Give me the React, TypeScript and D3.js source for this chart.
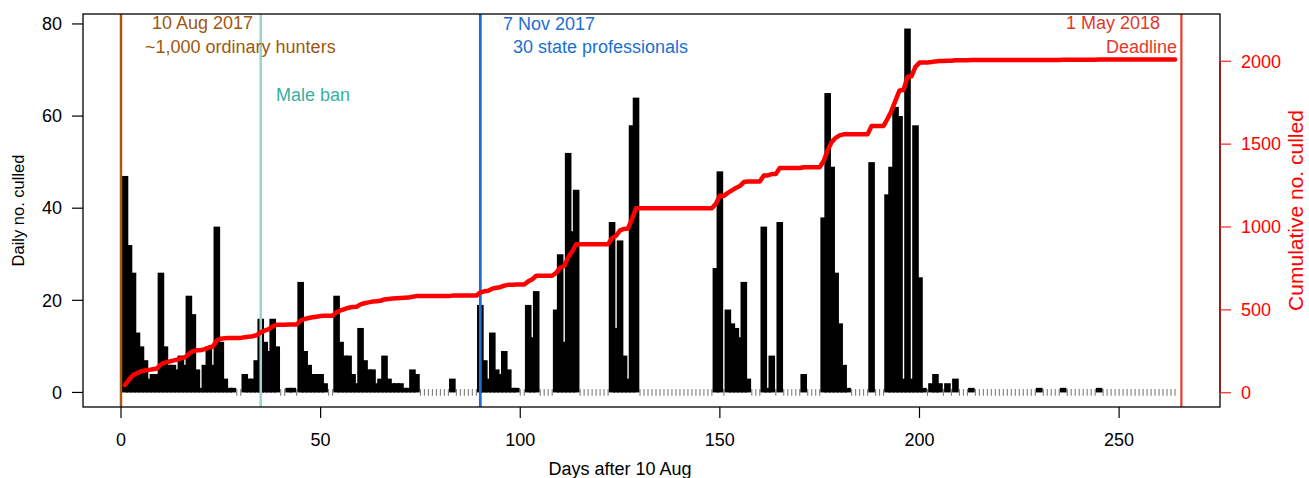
import React from "react";
import * as d3 from "d3";

const WIDTH = 1309;
const HEIGHT = 478;
const FONT = "'Liberation Sans', Arial, Helvetica, sans-serif";

// Days (after 10 Aug 2017) with at least one animal culled, and the count that day
const CULL_DAYS = [
  1, 2, 3, 4, 5, 6, 7, 8, 9, 10, 11, 12, 13, 14, 15, 16, 17, 18, 19, 20, 21, 22, 23, 24, 25, 26, 27, 28,
  31, 32, 33, 34, 35, 36, 37, 38, 39, 42, 43, 45, 46, 47, 48, 49, 50, 51, 54, 55, 56, 57, 58, 59, 60,
  61, 62, 63, 64, 65, 66, 67, 68, 69, 70, 71, 72, 73, 74, 83, 90, 91, 92, 93, 94, 95, 96, 97, 98, 99,
  102, 103, 104, 109, 110, 111, 112, 113, 114, 123, 124, 125, 126, 127, 128, 129, 149, 150, 152, 153,
  154, 155, 156, 157, 161, 162, 163, 165, 171, 176, 177, 178, 179, 180, 181, 182, 188, 192, 193, 194,
  195, 196, 197, 198, 199, 200, 201, 203, 204, 205, 207, 209, 213, 230, 236, 245,
];
const CULL_COUNTS = [
  47, 32, 26, 13, 10, 7, 3, 4, 4, 26, 10, 6, 6, 5, 8, 6, 21, 17, 5, 1, 6, 10, 6, 36, 11, 3, 1, 1,
  4, 3, 3, 7, 16, 11, 9, 16, 10, 1, 1, 24, 9, 6, 4, 4, 4, 2, 21, 11, 8, 8, 4, 2, 14,
  7, 5, 5, 2, 3, 8, 3, 2, 2, 2, 1, 1, 5, 4, 3, 19, 7, 3, 13, 5, 4, 9, 5, 1, 1,
  19, 12, 22, 18, 30, 11, 52, 35, 44, 37, 14, 33, 8, 3, 58, 64, 27, 48, 18, 15,
  14, 12, 24, 3, 36, 1, 8, 37, 4, 38, 65, 49, 26, 15, 6, 1, 50, 43, 49, 62,
  60, 3, 79, 3, 58, 25, 1, 2, 4, 2, 2, 3, 1, 1, 1, 1,
];
const FIRST_DAY = 1;
const LAST_DAY = 264;

const X_TICKS = [0, 50, 100, 150, 200, 250];
const Y_TICKS = [0, 20, 40, 60, 80];
const CUM_TICKS = [0, 500, 1000, 1500, 2000];

// Reference dates (days after 10 Aug 2017)
const EVENT_DAYS = [0, 35, 90, 265.6];
const EVENT_LINES = [
  ["10 Aug 2017", "~1,000 ordinary hunters"],
  ["Male ban"],
  ["7 Nov 2017", "30 state professionals"],
  ["1 May 2018", "Deadline"],
];

export default function App() {
  const left = 83, right = 1220, top = 14, bottom = 407;
  const x = d3.scaleLinear().domain([-9.52, 275.27]).range([left, right]);
  const yL = d3.scaleLinear().domain([-3.16, 82.16]).range([bottom, top]);
  const yR = d3.scaleLinear().domain([-86, 2285]).range([bottom, top]);

  const lookup = new Map<number, number>();
  CULL_DAYS.forEach((d, i) => lookup.set(d, CULL_COUNTS[i]));
  const days = d3.range(FIRST_DAY, LAST_DAY + 1);
  const daily = days.map((d) => lookup.get(d) ?? 0);
  const cum = Array.from(d3.cumsum(daily));

  const line = d3
    .line<number>()
    .x((_, i) => x(days[i]))
    .y((c) => yR(c));

  const barW = 6.6;
  const y0 = yL(0);

  const eventStyle = [
    { line: "#a65b12", text: "#a0580e", w: 2.5 },
    { line: "#9ed3ce", text: "#3aafa0", w: 2.6 },
    { line: "#1b6fd3", text: "#1b6fd3", w: 2.8 },
    { line: "#e43d2c", text: "#e3392b", w: 2.2 },
  ];
  const eventText = [
    [
      { x: 152, y: 29, anchor: "start" },
      { x: 145, y: 53, anchor: "start" },
    ],
    [{ x: 276, y: 100.5, anchor: "start" }],
    [
      { x: 503, y: 30, anchor: "start" },
      { x: 513, y: 53, anchor: "start" },
    ],
    [
      { x: 1160, y: 29, anchor: "end" },
      { x: 1177, y: 53, anchor: "end" },
    ],
  ];

  return (
    <svg
      width={WIDTH}
      height={HEIGHT}
      style={{ position: "absolute", left: 0, top: 0, background: "#fff" }}
      fontFamily={FONT}
    >
      <rect x={0} y={0} width={WIDTH} height={HEIGHT} fill="#fff" />

      {/* zero-day ticks */}
      {days.map((d, i) =>
        daily[i] === 0 ? (
          <line key={"z" + d} x1={x(d)} x2={x(d)} y1={y0 - 3.4} y2={y0 + 3.4} stroke="#7d7d7d" strokeWidth={1.1} />
        ) : null
      )}

      {/* daily bars */}
      {days.map((d, i) =>
        daily[i] > 0 ? (
          <rect key={"b" + d} x={x(d) - barW / 2} y={yL(daily[i])} width={barW} height={y0 - yL(daily[i])} fill="#000" />
        ) : null
      )}

      {/* event lines */}
      {EVENT_DAYS.map((d, i) => (
        <line key={"e" + i} x1={x(d)} x2={x(d)} y1={top} y2={bottom} stroke={eventStyle[i].line} strokeWidth={eventStyle[i].w} />
      ))}

      {/* cumulative line */}
      <path d={line(cum) || ""} fill="none" stroke="#ff0000" strokeWidth={4.5} strokeLinejoin="round" strokeLinecap="round" />

      {/* event labels */}
      {EVENT_LINES.map((labels, i) =>
        labels.map((t, j) => (
          <text key={"t" + i + j} x={eventText[i][j].x} y={eventText[i][j].y} textAnchor={eventText[i][j].anchor as any} fontSize={18} fill={eventStyle[i].text}>
            {t}
          </text>
        ))
      )}

      {/* box */}
      <rect x={left} y={top} width={right - left} height={bottom - top} fill="none" stroke="#000" strokeWidth={1.3} />

      {/* left axis */}
      {Y_TICKS.map((t) => (
        <g key={"yl" + t}>
          <line x1={72} x2={left} y1={yL(t)} y2={yL(t)} stroke="#000" strokeWidth={1.2} />
          <text x={62} y={yL(t)} dy="0.35em" textAnchor="end" fontSize={18} fill="#000">
            {t}
          </text>
        </g>
      ))}
      <text transform={`translate(24,${(top + bottom) / 2}) rotate(-90)`} textAnchor="middle" fontSize={16.5} fill="#000">
        Daily no. culled
      </text>

      {/* bottom axis */}
      {X_TICKS.map((t) => (
        <g key={"xt" + t}>
          <line x1={x(t)} x2={x(t)} y1={bottom} y2={418} stroke="#000" strokeWidth={1.2} />
          <text x={x(t)} y={446} textAnchor="middle" fontSize={18} fill="#000">
            {t}
          </text>
        </g>
      ))}
      <text x={620} y={475} textAnchor="middle" fontSize={18} fill="#000">
        Days after 10 Aug
      </text>

      {/* right axis */}
      <line x1={right} x2={right} y1={yR(0)} y2={yR(2000)} stroke="#b00000" strokeWidth={1.3} />
      {CUM_TICKS.map((t) => (
        <g key={"yr" + t}>
          <line x1={right} x2={1231} y1={yR(t)} y2={yR(t)} stroke="#ff2020" strokeWidth={1.2} />
          <text x={1241} y={yR(t)} dy="0.35em" textAnchor="start" fontSize={18} fill="#ff0000">
            {t}
          </text>
        </g>
      ))}
      <text transform={`translate(1303,${(top + bottom) / 2}) rotate(-90)`} textAnchor="middle" fontSize={21} fill="#ff0000">
        Cumulative no. culled
      </text>
    </svg>
  );
}
